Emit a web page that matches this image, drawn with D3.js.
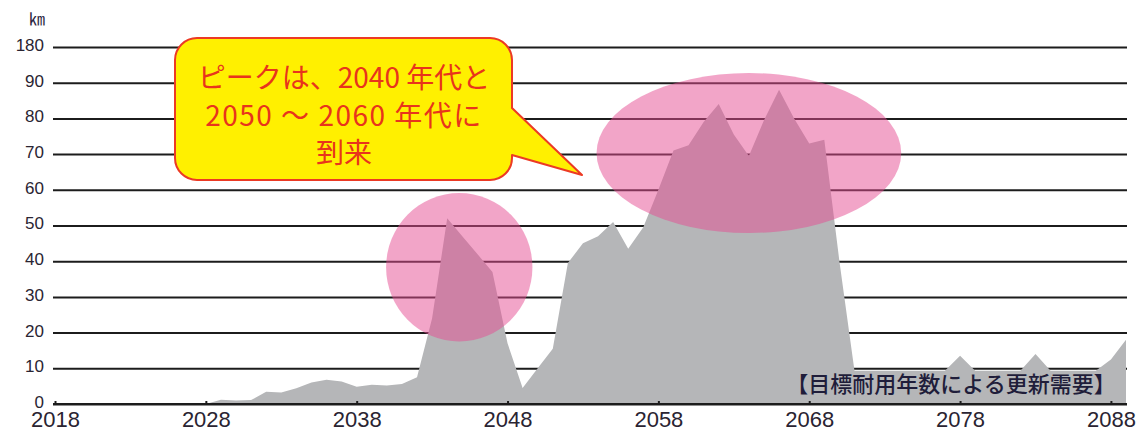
<!DOCTYPE html>
<html>
<head>
<meta charset="utf-8">
<script src="https://cdn.jsdelivr.net/npm/d3@7"></script>
<style>
  html, body { margin: 0; padding: 0; background: #fff; }
  svg { display: block; }
</style>
</head>
<body>
<svg id="chart" width="1138" height="433"></svg>
<script>
// Annual renewal demand (km)
const years = [2028, 2029, 2030, 2031, 2032, 2033, 2034, 2035, 2036, 2037,
               2038, 2039, 2040, 2041, 2042, 2043, 2044, 2045, 2046, 2047,
               2048, 2049, 2050, 2051, 2052, 2053, 2054, 2055, 2056, 2057,
               2058, 2059, 2060, 2061, 2062, 2063, 2064, 2065, 2066, 2067,
               2068, 2069, 2070, 2071, 2072, 2073, 2074, 2075, 2076, 2077,
               2078, 2079, 2080, 2081, 2082, 2083, 2084, 2085, 2086, 2087,
               2088, 2089];
const demand = [0, 1.2, 1.0, 1.1, 3.4, 3.2, 4.4, 6.0, 6.8, 6.3,
                4.8, 5.4, 5.2, 5.6, 7.5, 24, 52, 47, 42, 37,
                17, 4.5, 10, 15.5, 39.5, 45, 47, 51, 43.5, 49.5,
                60, 71, 72.5, 79, 84, 75.5, 69.5, 79.5, 88, 80,
                73, 74, 40, 9.3, 9.3, 9.3, 9.3, 9.3, 9.3, 9.3,
                13.5, 9.3, 9.3, 9.3, 9.3, 14, 9.3, 9.3, 9.3, 9.3,
                12.5, 18];

// Axis ticks (the top line is a broken-axis mark labelled 180)
const xTickYears = [2018, 2028, 2038, 2048, 2058, 2068, 2078, 2088];
const yTickValues = [0, 10, 20, 30, 40, 50, 60, 70, 80, 90, 100];
const yTickLabels = ["0", "10", "20", "30", "40", "50", "60", "70", "80", "90", "180"];

// Texts
const unitLabel = "㎞";
const seriesLabel = "【目標耐用年数による更新需要】";
const calloutLines = ["ピークは、2040 年代と", "2050 ～ 2060 年代に", "到来"];

// Highlighted peak periods, in data units (centre year/value, half extents)
const peakZoneYears = [2044.8, 2064.0];
const peakZoneValues = [38.3, 70.3];
const peakZoneHalfYears = [4.85, 10.1];
const peakZoneHalfValues = [20.8, 22.4];

const svg = d3.select("#chart");
const gridLeft = 53, gridRight = 1127;

const x = d3.scaleLinear().domain([2018, 2089]).range([55, 1126]);
const y = d3.scaleLinear().domain([0, 100]).range([404, 47]);

const latin = "'Liberation Sans', Arial, sans-serif";
const jp = "'Noto Sans CJK JP', sans-serif";

// Horizontal grid lines with value labels
const yAxis = d3.axisLeft(y)
  .tickValues(yTickValues)
  .tickFormat((d, i) => yTickLabels[i])
  .tickSize(-(gridRight - gridLeft))
  .tickPadding(9);
const gy = svg.append("g").attr("transform", `translate(${gridLeft},0)`).call(yAxis);
gy.select(".domain").remove();
gy.selectAll(".tick line").attr("stroke", "#1c1c1c").attr("stroke-width", 2);
gy.selectAll(".tick text")
  .attr("font-family", latin).attr("font-size", 17)
  .attr("fill", "#2a2432").attr("dy", "0.2em");

// Demand area
const area = d3.area()
  .x((d, i) => x(years[i]))
  .y0(y(0))
  .y1(d => y(d));
svg.append("path").datum(demand).attr("d", area).attr("fill", "#b5b6b8");

// Year axis
const xAxis = d3.axisBottom(x)
  .tickValues(xTickYears)
  .tickFormat(d3.format("d"))
  .tickSizeInner(-3).tickSizeOuter(0)
  .tickPadding(7);
const gx = svg.append("g").attr("transform", `translate(0,${y(0)})`).call(xAxis);
gx.select(".domain").remove();
gx.selectAll(".tick line").attr("stroke", "#1c1c1c").attr("stroke-width", 2);
gx.selectAll(".tick text")
  .attr("font-family", latin).attr("font-size", 22).attr("fill", "#2a2432");
svg.append("line")
  .attr("x1", gridLeft).attr("x2", gridRight)
  .attr("y1", y(0)).attr("y2", y(0))
  .attr("stroke", "#1c1c1c").attr("stroke-width", 2);

// Peak period highlights
svg.append("g").selectAll("ellipse")
  .data(peakZoneYears)
  .join("ellipse")
  .attr("cx", d => x(d))
  .attr("cy", (d, i) => y(peakZoneValues[i]))
  .attr("rx", (d, i) => x(d + peakZoneHalfYears[i]) - x(d))
  .attr("ry", (d, i) => y(0) - y(peakZoneHalfValues[i]))
  .attr("fill", "rgb(229,76,146)")
  .attr("fill-opacity", 0.5);

// Speech bubble
const box = { left: 175, right: 512, top: 38, bottom: 180, r: 22 };
const tail = { y1: 108, y2: 155, tipX: 582, tipY: 175 };
const p = d3.path();
p.moveTo(box.left + box.r, box.top);
p.lineTo(box.right - box.r, box.top);
p.arcTo(box.right, box.top, box.right, box.top + box.r, box.r);
p.lineTo(box.right, tail.y1);
p.lineTo(tail.tipX, tail.tipY);
p.lineTo(box.right, tail.y2);
p.arcTo(box.right, box.bottom, box.right - box.r, box.bottom, box.r);
p.lineTo(box.left + box.r, box.bottom);
p.arcTo(box.left, box.bottom, box.left, box.bottom - box.r, box.r);
p.lineTo(box.left, box.top + box.r);
p.arcTo(box.left, box.top, box.left + box.r, box.top, box.r);
p.closePath();
svg.append("path").attr("d", p.toString())
  .attr("fill", "#fff000").attr("stroke", "#ec3a24").attr("stroke-width", 2)
  .attr("stroke-linejoin", "round");

const lineBaselines = [88, 126, 163];
const lineSpacing = [0, 1.5, 0];
svg.append("g").selectAll("text")
  .data(calloutLines)
  .join("text")
  .attr("x", 344)
  .attr("y", (d, i) => lineBaselines[i])
  .attr("text-anchor", "middle")
  .attr("letter-spacing", (d, i) => lineSpacing[i])
  .attr("font-family", jp).attr("font-size", 28)
  .attr("fill", "#e8341c")
  .text(d => d);

// Unit and series labels
svg.append("text").attr("x", 45).attr("y", 25).attr("text-anchor", "end")
  .attr("font-family", jp).attr("font-size", 16).attr("fill", "#2b2440")
  .text(unitLabel);
svg.append("text").attr("x", 951).attr("y", 392).attr("text-anchor", "middle")
  .attr("font-family", jp).attr("font-size", 22).attr("font-weight", 500)
  .attr("fill", "#1f1d3a")
  .text(seriesLabel);
</script>
</body>
</html>
